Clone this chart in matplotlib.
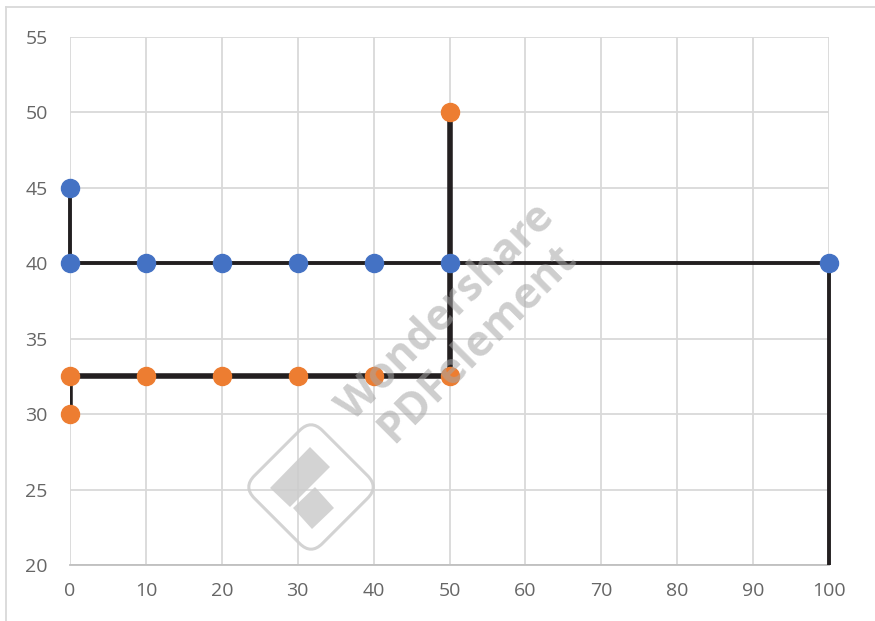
import matplotlib
matplotlib.use("Agg")
import matplotlib.pyplot as plt
from matplotlib.lines import Line2D
from matplotlib.patches import FancyBboxPatch, Rectangle, Polygon
import matplotlib.transforms as mtransforms

# Data
blue_x = [0, 0, 10, 20, 30, 40, 50, 100, 100]
blue_y = [45, 40, 40, 40, 40, 40, 40, 40, 0]
orange_x = [0, 0, 10, 20, 30, 40, 50, 50]
orange_y = [30, 32.5, 32.5, 32.5, 32.5, 32.5, 32.5, 50]
x_ticks = [0, 10, 20, 30, 40, 50, 60, 70, 80, 90, 100]
y_ticks = [20, 25, 30, 35, 40, 45, 50, 55]

W, H = 875, 621
fig = plt.figure(figsize=(W / 100, H / 100), dpi=100)
plt.rcParams['font.family'] = ['Open Sans', 'DejaVu Sans']

ax = fig.add_axes([70 / W, 1 - 565 / H, (829 - 70) / W, (565 - 37) / H])
ax.set_xlim(0, 100)
ax.set_ylim(20, 55)
ax.set_xticks(x_ticks)
ax.set_yticks(y_ticks)
ax.grid(True, color='#d9d9d9', linewidth=1.3)
ax.set_axisbelow(True)
for s in ['top', 'right', 'left']:
    ax.spines[s].set_visible(False)
ax.spines['bottom'].set_color('#bfbfbf')
ax.spines['bottom'].set_linewidth(1.3)
ax.tick_params(length=0, labelsize=14, colors='#666666')
ax.tick_params(axis='x', pad=12)
ax.tick_params(axis='y', pad=16)

# Lines
clip_rect = Rectangle((-0.05, 0), 1.1, 1.2, transform=ax.transAxes)
bl, = ax.plot(blue_x, blue_y, color='#231f20', linewidth=2.8, zorder=3)
bl.set_clip_path(clip_rect)
ol, = ax.plot(orange_x, orange_y, color='#231f20', linewidth=4.0, zorder=3)
ax.plot(blue_x[:-1], blue_y[:-1], linestyle='none', marker='o', markersize=13,
        color='#4472c4', zorder=4, clip_on=False)
ax.plot(orange_x, orange_y, linestyle='none', marker='o', markersize=13,
        color='#ed7d31', zorder=4, clip_on=False)

# Watermark text
fig.text(462 / W, 1 - 328 / H, 'Wondershare\nPDFelement', rotation=45, fontsize=31,
         fontweight='bold', color='#a6a6a6', alpha=0.55, ha='center', va='center',
         linespacing=1.0, zorder=10)

# Watermark logo (rotated rounded square)
cx, cy = 311, 487
side = 96
box = FancyBboxPatch((cx - side / 2, H - cy - side / 2), side, side,
                     boxstyle='round,pad=0,rounding_size=16', fill=False,
                     edgecolor='#cfcfcf', linewidth=2.2, alpha=0.9)
box.set_transform(mtransforms.Affine2D().rotate_deg_around(cx, H - cy, 45))
fig.add_artist(box)
for pts in ([(270, 488), (310, 447), (330, 467), (290, 507)],
            [(293, 508), (315, 487), (334, 508), (312, 529)]):
    p = Polygon([(x, H - y) for x, y in pts], closed=True, facecolor='#cccccc',
                edgecolor='none', alpha=0.85, transform=mtransforms.IdentityTransform())
    fig.add_artist(p)

# Frame (top and left only)
fig.add_artist(Line2D([6 / W, 1], [1 - 7 / H, 1 - 7 / H], color='#d9d9d9', linewidth=1.3))
fig.add_artist(Line2D([6 / W, 6 / W], [0, 1 - 7 / H], color='#d9d9d9', linewidth=1.3))

fig.savefig('out.png', dpi=100)
